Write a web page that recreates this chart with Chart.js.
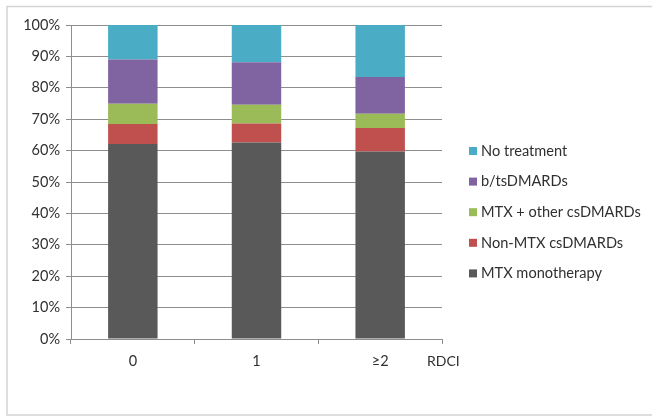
<!DOCTYPE html>
<html>
<head>
<meta charset="utf-8">
<script src="https://cdn.jsdelivr.net/npm/chart.js@4/dist/chart.umd.min.js"></script>
<style>
  html, body { margin: 0; padding: 0; background: #fff; }
  #wrap { width: 652px; height: 416px; position: relative; }
</style>
</head>
<body>
<div id="wrap"><canvas id="chart" width="652" height="416"></canvas></div>
<script>
// categories (RDCI groups)
const categories = ['0', '1', '\u22652'];
const yTicks = [0, 10, 20, 30, 40, 50, 60, 70, 80, 90, 100];

// share of patients per treatment, in %
const mtxMono = [62.1, 62.6, 59.7];
const nonMtx = [6.4, 6.0, 7.5];
const mtxOther = [6.4, 6.0, 4.5];
const btsDmards = [14.1, 13.5, 11.7];
const noTreatment = [11.0, 11.9, 16.6];

const FONT = 'Lato, "Open Sans", sans-serif';
const gridColor = '#8e8e8e';

// outer frame like the Excel chart border
const framePlugin = {
    id: 'frame',
    beforeDraw(chart) {
        const ctx = chart.ctx;
        ctx.save();
        ctx.strokeStyle = '#d4d4d4';
        ctx.lineWidth = 1.5;
        ctx.beginPath();
        ctx.moveTo(652, 6.5);
        ctx.lineTo(7, 6.5);
        ctx.lineTo(7, 415);
        ctx.lineTo(652, 415);
        ctx.stroke();
        ctx.restore();
    }
};

// legend on the right, drawn in reverse order, plus axis title "RDCI"
const sideTextPlugin = {
    id: 'sideText',
    afterDraw(chart) {
        const ctx = chart.ctx;
        ctx.save();
        ctx.font = '14.6px ' + FONT;
        ctx.textBaseline = 'middle';
        ctx.textAlign = 'left';
        const ds = chart.data.datasets;
        let y = 151;
        for (let i = ds.length - 1; i >= 0; i--) {
            ctx.fillStyle = ds[i].backgroundColor;
            ctx.fillRect(469, y - 4, 8, 8);
            ctx.fillStyle = '#303030';
            ctx.fillText(ds[i].label, 481, y);
            y += 30.6;
        }
        ctx.font = '14px ' + FONT;
        ctx.fillText('RDCI', 427, 361);
        ctx.restore();
    }
};

function makeSet(label, data, color) {
    return {
        label: label,
        data: data,
        backgroundColor: color,
        borderWidth: 0,
        barPercentage: 0.4,
        categoryPercentage: 1.0
    };
}

const ctx = document.getElementById('chart').getContext('2d');
new Chart(ctx, {
    type: 'bar',
    data: {
        labels: categories,
        datasets: [
            makeSet('MTX monotherapy', mtxMono, '#595959'),
            makeSet('Non-MTX csDMARDs', nonMtx, '#c0504d'),
            makeSet('MTX + other csDMARDs', mtxOther, '#9bbb59'),
            makeSet('b/tsDMARDs', btsDmards, '#8064a2'),
            makeSet('No treatment', noTreatment, '#4bacc6')
        ]
    },
    options: {
        responsive: false,
        animation: false,
        layout: { padding: { left: 0, right: 210, top: 25, bottom: 0 } },
        plugins: {
            legend: { display: false },
            tooltip: { enabled: false }
        },
        scales: {
            x: {
                stacked: true,
                afterFit: function(scale) { scale.height = 77; },
                border: { color: gridColor, width: 1 },
                grid: {
                    offset: true,
                    drawOnChartArea: false,
                    drawTicks: true,
                    tickLength: 5,
                    color: gridColor
                },
                ticks: {
                    color: '#303030',
                    font: { family: FONT, size: 14.5 },
                    padding: 9
                }
            },
            y: {
                stacked: true,
                min: 0,
                max: 100,
                afterFit: function(scale) { scale.width = 71; },
                afterBuildTicks: function(scale) {
                    scale.ticks = yTicks.map(v => ({ value: v }));
                },
                border: { color: gridColor, width: 1 },
                grid: {
                    color: gridColor,
                    tickLength: 5
                },
                ticks: {
                    color: '#303030',
                    font: { family: FONT, size: 14.5 },
                    padding: 6,
                    callback: v => v + '%'
                }
            }
        }
    },
    plugins: [framePlugin, sideTextPlugin]
});
</script>
</body>
</html>
